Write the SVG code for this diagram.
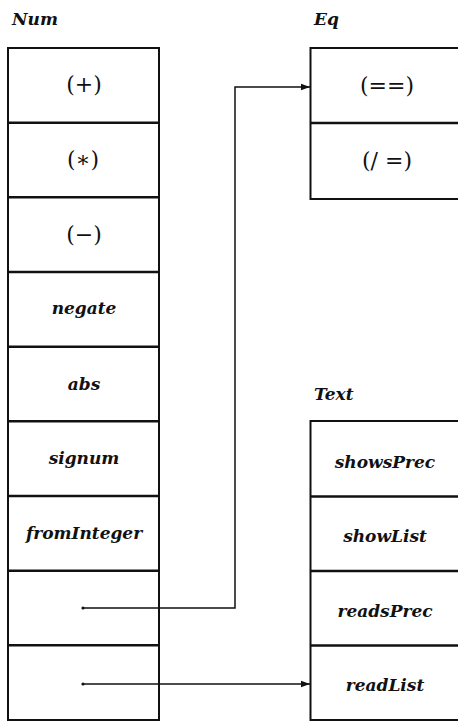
<svg xmlns="http://www.w3.org/2000/svg" width="458" height="722" viewBox="0 0 458 722">
  <style>
    .box { fill: #fff; stroke: #111; stroke-width: 2; }
    .div { stroke: #111; stroke-width: 2.4; }
    .title { font-family: "DejaVu Serif", "Liberation Serif", serif; font-style: italic; font-weight: bold; font-size: 17px; fill: #111; }
    .op { font-family: "DejaVu Serif", "Liberation Serif", serif; font-size: 22px; fill: #111; text-anchor: middle; }
    .fn { font-family: "DejaVu Serif", "Liberation Serif", serif; font-style: italic; font-weight: bold; font-size: 17px; fill: #111; text-anchor: middle; }
    .wire { fill: none; stroke: #111; stroke-width: 1.5; }
  </style>
  <defs>
    <marker id="arrow" markerWidth="10" markerHeight="8" refX="9" refY="4" orient="auto" markerUnits="userSpaceOnUse">
      <path d="M0,0.8 L9,4 L0,7.2 Z" fill="#111"/>
    </marker>
  </defs>
  <rect width="458" height="722" fill="#fff"/>

  <!-- Num class dictionary -->
  <g id="num">
    <text class="title" x="12" y="25">Num</text>
    <rect class="box" x="8" y="48" width="151" height="672"/>
    <line class="div" x1="8" y1="122.7" x2="159" y2="122.7"/>
    <line class="div" x1="8" y1="197.3" x2="159" y2="197.3"/>
    <line class="div" x1="8" y1="272" x2="159" y2="272"/>
    <line class="div" x1="8" y1="346.7" x2="159" y2="346.7"/>
    <line class="div" x1="8" y1="421.3" x2="159" y2="421.3"/>
    <line class="div" x1="8" y1="496" x2="159" y2="496"/>
    <line class="div" x1="8" y1="570.7" x2="159" y2="570.7"/>
    <line class="div" x1="8" y1="645.3" x2="159" y2="645.3"/>
    <text class="op" x="84" y="92">(+)</text>
    <text class="op" x="83" y="167">(∗)</text>
    <text class="op" x="84" y="242">(−)</text>
    <text class="fn" x="84" y="314">negate</text>
    <text class="fn" x="84" y="390">abs</text>
    <text class="fn" x="84" y="464">signum</text>
    <text class="fn" x="84" y="539">fromInteger</text>
  </g>

  <!-- Eq class dictionary -->
  <g id="eq">
    <text class="title" x="314" y="25">Eq</text>
    <rect class="box" x="310.5" y="48" width="152" height="151"/>
    <line class="div" x1="310.5" y1="123" x2="462" y2="123"/>
    <text class="op" x="387" y="93">(==)</text>
    <text class="op" x="387" y="168">(/ =)</text>
  </g>

  <!-- Text class dictionary -->
  <g id="text">
    <text class="title" x="314" y="400">Text</text>
    <rect class="box" x="310.5" y="421" width="152" height="299"/>
    <line class="div" x1="310.5" y1="496.5" x2="462" y2="496.5"/>
    <line class="div" x1="310.5" y1="571" x2="462" y2="571"/>
    <line class="div" x1="310.5" y1="645.5" x2="462" y2="645.5"/>
    <text class="fn" x="385" y="468">showsPrec</text>
    <text class="fn" x="385" y="542">showList</text>
    <text class="fn" x="385" y="617">readsPrec</text>
    <text class="fn" x="385" y="691">readList</text>
  </g>

  <!-- superclass and instance links -->
  <g id="connectors">
    <circle cx="83" cy="608" r="1.6" fill="#111"/>
    <path class="wire" d="M83,608 H235 V87 H310" marker-end="url(#arrow)"/>
    <circle cx="83" cy="684" r="1.6" fill="#111"/>
    <path class="wire" d="M83,684 H310" marker-end="url(#arrow)"/>
  </g>
</svg>
